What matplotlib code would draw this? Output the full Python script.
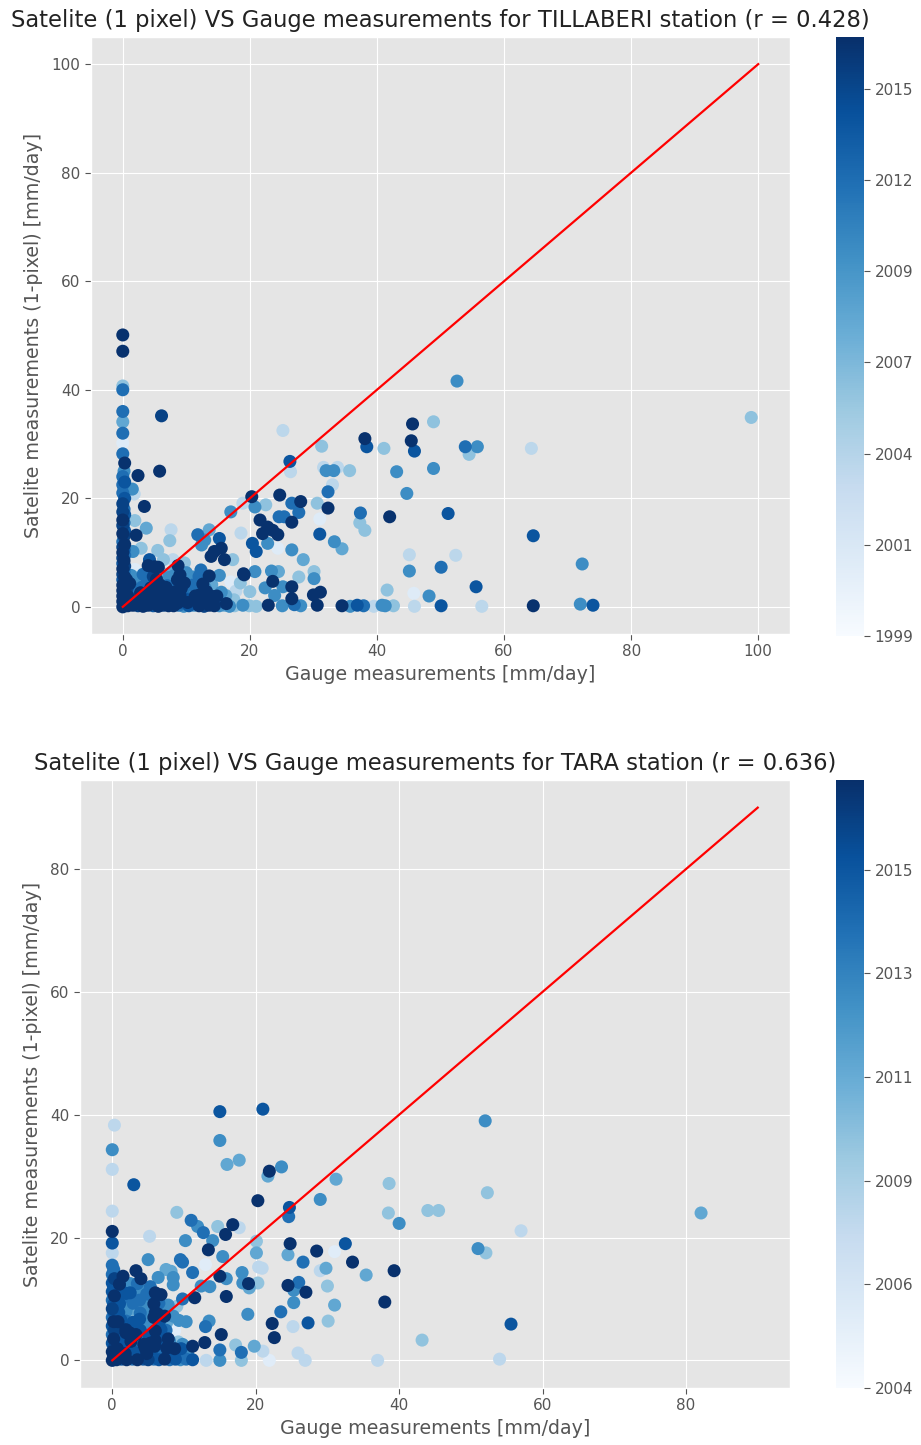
import matplotlib
matplotlib.use("Agg")
import matplotlib.pyplot as plt
import numpy as np
from matplotlib.colors import Normalize
import matplotlib.cm as cm

plt.style.use("ggplot")

# ------------------------------------------------------------------ DATA
# ---- TILLABERI (top) ----
top_title = "Satelite (1 pixel) VS Gauge measurements for TILLABERI station (r = 0.428)"
# column of points at gauge = 0
top_col_x = [0.0, 0.2, 0.0, 0.3, 0.0, 0.2, 0.0, 0.4, 0.0, 0.2, 0.0, 0.3, 0.0, 0.2, 0.0, 0.3, 0.0, 0.2, 0.0, 0.3,
             0.0, 0.2, 0.0, 0.3, 0.0, 0.2, 0.0, 0.3, 0.0, 0.2, 0.0, 0.3, 0.0, 0.2, 0.0, 0.3, 0.0, 0.2, 0.0, 0.3,
             0.0, 0.2, 0.3, 0.0, 0.0, 0.0, 0.0, 0.0, 0.0, 0.0, 0.0, 0.0]
top_col_y = [0, 0.5, 1, 1.5, 2, 2.5, 3, 3.5, 4, 4.5, 5, 5.5, 6, 6.5, 7, 7.5, 8, 8.5, 9, 9.5,
             10, 10.5, 11, 11.5, 12, 13, 13.5, 14, 15, 15.5, 16, 17, 17.5, 18, 19, 20, 21, 22, 22.5, 23,
             24, 25, 26.5, 28.2, 30.2, 32.0, 34.1, 36.0, 40.0, 40.7, 47.1, 50.1]
top_col_year = [2016.5, 2015.5, 2016.5, 2014.2, 2016.5, 2015.5, 2016.5, 2010.5, 2016.5, 2015.5,
                2014.2, 2016.5, 2015.5, 2012.5, 2016.5, 2015.5, 2014.2, 2016.5, 2015.5, 2012.5,
                2016.5, 2014.2, 2015.5, 2016.5, 2012.5, 2015.5, 2016.5, 2014.2, 2015.5, 2012.5,
                2016.5, 2014.2, 2015.5, 2012.5, 2015.5, 2014.2, 2012.5, 2010.5, 2012.5, 2014.2,
                2012.5, 2010.5, 2016.5, 2012.5, 2001.5, 2012.5, 2008.5, 2012.5, 2012.5, 2006.5,
                2016.5, 2016.5]

# dense carpet near the origin
top_base_x = [0.8, 1.6, 2.4, 3.2, 4.0, 4.8, 5.6, 6.4, 7.2, 8.0, 8.8, 9.6, 10.4, 11.2, 12.0, 12.8, 13.6, 14.4, 15.2, 16.0, 16.8, 17.6,
              1.0, 2.0, 3.0, 4.0, 5.0, 6.0, 7.0, 8.0, 9.0, 10.0, 11.0, 12.0, 13.0, 15.0, 17.5,
              1.5, 2.8, 4.2, 5.0, 7.0, 8.3, 9.5, 10.8, 13.2, 15.5, 17.8, 20.0,
              2.0, 3.2, 5.8, 7.0, 8.3, 11.0, 12.6, 14.0,
              1.3, 4.8, 6.6, 8.0, 9.0]
top_base_y = [0.2, 0.3, 0.2, 0.1, 0.3, 0.2, 0.1, 0.3, 0.2, 0.2, 0.3, 0.1, 0.2, 0.3, 0.2, 0.1, 0.3, 0.2, 0.2, 0.3, 0.1, 0.2,
              1.3, 1.1, 1.4, 1.2, 1.3, 1.5, 1.2, 1.3, 1.1, 1.4, 1.2, 1.3, 1.5, 1.2, 1.3,
              2.8, 2.6, 3.0, 2.7, 2.9, 2.8, 2.6, 3.0, 2.8, 2.7, 2.9, 2.8,
              4.0, 4.2, 4.1, 3.9, 4.3, 4.0, 4.2, 4.1,
              5.8, 5.6, 6.0, 5.7, 5.9]
top_base_year = [2016.5, 2016.5, 2015.5, 2016.5, 2016.5, 2014.2, 2016.5, 2015.5, 2016.5, 2016.5, 2012.5,
                 2010.5, 2014.2, 2010.5, 2016.5, 2015.5, 2016.5, 2016.5, 2010.5, 2008.5, 2010.5, 2006.5,
                 2016.5, 2015.5, 2016.5, 2012.5, 2016.5, 2016.5, 2010.5, 2016.5, 2015.5, 2014.2, 2010.5,
                 2016.5, 2012.5, 2010.5, 2006.5,
                 2012.5, 2016.5, 2010.5, 2016.5, 2014.2, 2016.5, 2012.5, 2010.5, 2016.5, 2010.5, 2004.2, 2006.5,
                 2006.5, 2010.5, 2016.5, 2012.5, 2010.5, 2012.5, 2016.5, 2008.5,
                 2010.5, 2015.5, 2006.5, 2010.5, 2016.5]

# extra fill of the crowded corner
top_fill_x = [0.6, 1.4, 2.2, 3.0, 3.8, 4.6, 5.4, 6.2, 7.0, 7.8, 8.6, 9.4, 10.2, 11.0, 11.8, 12.6, 13.4, 14.2, 15.0, 15.8,
              0.8, 1.8, 3.4, 4.6, 5.8, 6.6, 7.8, 9.0, 10.2, 11.4, 12.4, 13.6, 14.8, 16.2,
              0.7, 1.9, 3.0, 4.4, 5.6, 6.8, 8.0, 9.2, 10.4, 11.6, 13.0,
              0.6, 1.6, 3.2, 5.3, 7.2, 8.6, 10.8, 12.0]
top_fill_y = [0.8, 0.7, 0.9, 0.8, 0.7, 0.9, 0.8, 0.7, 0.9, 0.8, 0.7, 0.9, 0.8, 0.7, 0.9, 0.8, 0.7, 0.9, 0.8, 0.7,
              2.0, 2.1, 1.9, 2.0, 2.2, 1.9, 2.0, 2.1, 1.9, 2.0, 2.2, 1.9, 2.0, 2.1,
              3.5, 3.4, 3.6, 3.5, 3.3, 3.6, 3.5, 3.4, 3.6, 3.5, 3.4,
              5.0, 5.6, 6.0, 5.1, 5.4, 5.0, 5.2, 5.6]
top_fill_year = [2016.5, 2015.5, 2016.5, 2014.2, 2016.5, 2016.5, 2015.5, 2016.5, 2012.5, 2016.5,
                 2016.5, 2014.2, 2016.5, 2012.5, 2016.5, 2014.2, 2016.5, 2015.5, 2012.5, 2010.5,
                 2016.5, 2012.5, 2016.5, 2010.5, 2016.5, 2015.5, 2012.5, 2016.5, 2010.5, 2016.5,
                 2014.2, 2012.5, 2016.5, 2008.5,
                 2015.5, 2008.5, 2012.5, 2016.5, 2010.5, 2016.5, 2012.5, 2016.5, 2008.5, 2012.5, 2010.5,
                 2016.5, 2006.5, 2012.5, 2016.5, 2010.5, 2016.5, 2008.5, 2012.5]

# scattered points, gauge < 20
top_a_x = [6.1, 5.8, 2.4, 1.5, 1.8, 3.4, 1.9, 3.7, 2.1, 7.6, 7.4, 2.9, 5.5, 1.6, 4.2, 4.0, 5.0, 5.6, 6.4, 7.9,
           8.7, 9.7, 9.7, 7.6, 1.9, 2.6, 3.9, 1.1, 6.1, 5.3, 7.6, 11.8, 12.4, 13.6, 12.9, 15.2, 14.4, 15.5, 13.9, 16.0,
           17.3, 12.3, 13.6, 15.2, 18.6, 17.0, 18.9, 19.1, 17.0, 18.5, 10.0, 11.0, 12.1, 14.4, 16.3]
top_a_y = [35.2, 25.0, 24.2, 21.7, 20.8, 18.5, 15.9, 14.5, 13.2, 14.2, 12.2, 10.8, 10.4, 10.2, 8.7, 7.6, 7.4, 7.3, 8.7, 8.7,
           7.6, 8.1, 4.4, 6.3, 6.9, 5.0, 5.0, 4.3, 2.8, 2.3, 2.5, 13.3, 11.4, 14.2, 12.3, 12.6, 10.2, 10.8, 9.3, 8.7,
           8.7, 6.8, 5.7, 5.8, 13.6, 17.5, 19.1, 5.9, 4.6, 4.4, 6.3, 5.5, 2.2, 1.9, 0.6]
top_a_year = [2015.5, 2016.5, 2016.5, 2010.5, 2004.2, 2016.5, 2006.5, 2008.5, 2016.5, 2004.2,
              2006.5, 2006.5, 2006.5, 2010.5, 2014.2, 2016.5, 2016.5, 2016.5, 2006.5, 2004.2,
              2016.5, 2006.5, 2016.5, 2008.5, 2001.5, 2010.5, 2012.5, 2016.5, 2016.5, 2016.5,
              2016.5, 2012.5, 2010.5, 2008.5, 2010.5, 2014.2, 2016.5, 2016.5, 2016.5, 2016.5,
              2006.5, 2012.5, 2016.5, 2010.5, 2004.2, 2010.5, 2004.2, 2016.5, 2001.5, 2006.5,
              2010.5, 2010.5, 2016.5, 2016.5, 2016.5]

# scattered points, gauge 20-36
top_b_x = [20.3, 20.8, 22.5, 21.6, 24.7, 26.6, 28.0, 26.3, 26.4, 25.2, 24.6, 25.4, 26.6, 27.7, 22.8, 23.6, 24.4, 22.0, 20.4, 21.0,
           22.8, 24.4, 26.6, 28.4, 19.0, 20.8, 23.4, 24.5, 23.6, 25.2, 26.6, 27.7, 30.1, 30.1, 31.1, 30.0, 23.9, 22.4, 26.6, 30.6,
           31.3, 31.6, 33.8, 32.0, 33.2, 33.0, 32.3, 32.3, 31.0, 31.0, 33.3, 34.5, 35.7]
top_b_y = [20.3, 18.4, 18.8, 16.0, 20.6, 19.1, 19.4, 26.8, 24.9, 32.5, 16.6, 16.6, 15.6, 17.4, 14.7, 14.1, 13.3, 13.5, 11.7, 10.2,
           11.7, 10.8, 10.5, 8.7, 6.1, 6.5, 6.6, 6.5, 4.7, 3.7, 3.7, 5.5, 6.5, 5.2, 2.7, 2.2, 2.1, 3.5, 1.5, 19.1,
           29.6, 25.7, 25.7, 25.1, 25.1, 22.5, 21.2, 18.2, 16.2, 13.4, 12.0, 10.7, 25.1]
top_b_year = [2016.5, 2010.5, 2006.5, 2016.5, 2016.5, 2012.5, 2016.5, 2014.2, 2004.2, 2004.2,
              2012.5, 2012.5, 2016.5, 2012.5, 2016.5, 2016.5, 2016.5, 2016.5, 2014.2, 2014.2,
              2010.5, 2001.5, 2010.5, 2008.5, 2016.5, 2010.5, 2010.5, 2008.5, 2016.5, 2010.5,
              2016.5, 2006.5, 2006.5, 2010.5, 2016.5, 2016.5, 2010.5, 2010.5, 2016.5, 2006.5,
              2006.5, 2004.2, 2004.2, 2010.5, 2010.5, 2004.2, 2012.5, 2016.5, 2001.5, 2014.2,
              2010.5, 2008.5, 2006.5]

# scattered points, gauge > 36
top_c_x = [37.4, 37.3, 38.1, 38.1, 38.4, 41.1, 42.0, 43.1, 44.7, 45.6, 45.4, 45.9, 48.9, 48.9, 51.2, 45.1, 45.1, 50.1, 48.2, 45.8,
           41.6, 52.6, 53.9, 55.8, 54.5, 64.3, 64.6, 72.3, 52.4, 55.6, 98.9, 64.6, 72.0, 74.0, 56.5, 50.1]
top_c_y = [17.3, 15.5, 14.1, 31.0, 29.5, 29.2, 16.6, 24.9, 20.9, 33.7, 30.6, 28.7, 34.1, 25.5, 17.2, 9.6, 6.6, 7.3, 2.0, 2.5,
           3.1, 41.6, 29.5, 29.5, 28.1, 29.2, 13.1, 7.9, 9.5, 3.7, 34.9, 0.2, 0.5, 0.3, 0.1, 0.2]
top_c_year = [2012.5, 2006.5, 2006.5, 2016.5, 2014.2, 2006.5, 2016.5, 2010.5, 2010.5, 2016.5,
              2016.5, 2014.2, 2006.5, 2010.5, 2014.2, 2004.2, 2010.5, 2012.5, 2010.5, 2001.5,
              2006.5, 2010.5, 2012.5, 2010.5, 2006.5, 2004.2, 2014.2, 2010.5, 2004.2, 2014.2,
              2006.5, 2016.5, 2010.5, 2014.2, 2004.2, 2014.2]

# points on the satellite = 0 row, gauge > 18
top_d_x = [18.9, 19.9, 21.0, 22.9, 25.1, 27.0, 28.0, 30.6, 34.5, 35.8, 36.9, 37.9, 39.5, 40.8, 41.3, 42.6, 45.9]
top_d_y = [0.3, 0.2, 0.1, 0.3, 0.2, 0.4, 0.2, 0.3, 0.2, 0.1, 0.3, 0.2, 0.1, 0.3, 0.2, 0.2, 0.1]
top_d_year = [2010.5, 2006.5, 2006.5, 2016.5, 2010.5, 2012.5, 2010.5, 2016.5, 2016.5, 2010.5,
              2014.2, 2012.5, 2004.2, 2010.5, 2010.5, 2006.5, 2004.2]

top_line = [0, 100]
top_cbar_range = [1999.3, 2016.7]
top_cbar_ticks = [1999.3, 2001.95, 2004.6, 2007.25, 2009.9, 2012.55, 2015.2]
top_cbar_labels = ["1999", "2001", "2004", "2007", "2009", "2012", "2015"]
top_xticks = [0, 20, 40, 60, 80, 100]
top_yticks = [0, 20, 40, 60, 80, 100]

# ---- TARA (bottom) ----
bot_title = "Satelite (1 pixel) VS Gauge measurements for TARA station (r = 0.636)"
bot_col_x = [0.0, 0.2, 0.0, 0.3, 0.0, 0.2, 0.0, 0.3, 0.0, 0.2, 0.0, 0.3, 0.0, 0.2, 0.0, 0.3, 0.0, 0.2, 0.0, 0.3,
             0.0, 0.2, 0.0, 0.0, 0.0, 0.0, 0.0, 0.0, 0.0, 0.3]
bot_col_y = [0, 0.7, 1.4, 2.1, 2.8, 3.5, 4.2, 4.9, 5.6, 6.3, 7.0, 7.7, 8.4, 9.1, 9.8, 10.5, 11.2, 11.9, 12.6, 13.3,
             14.0, 14.8, 15.5, 17.5, 19.1, 21.0, 24.3, 31.1, 34.3, 38.3]
bot_col_year = [2017.6, 2015.8, 2017.6, 2016.8, 2015.8, 2017.6, 2014.5, 2016.8, 2015.8, 2017.6,
                2014.5, 2015.8, 2016.8, 2015.8, 2014.5, 2017.6, 2015.8, 2014.5, 2015.8, 2016.8,
                2014.5, 2014.5, 2014.5, 2008.2, 2015.8, 2017.6, 2008.2, 2008.2, 2013.0, 2008.2]

bot_base_x = [0.6, 1.3, 2.0, 2.8, 3.5, 4.3, 5.0, 5.8, 6.5, 7.3, 8.0, 8.8, 9.5, 10.3, 11.2,
              0.8, 1.8, 2.8, 3.8, 4.8, 5.8, 6.8, 7.8, 9.0, 10.5,
              1.0, 2.2, 3.4, 4.4, 6.0, 7.0, 9.8]
bot_base_y = [0.1, 0.2, 0.1, 0.2, 0.1, 0.2, 0.1, 0.2, 0.1, 0.2, 0.1, 0.2, 0.1, 0.2, 0.1,
              1.2, 1.1, 1.3, 1.2, 1.1, 1.3, 1.2, 1.1, 1.3, 1.2,
              2.6, 2.5, 2.7, 2.6, 2.5, 2.7, 2.6]
bot_base_year = [2017.6, 2015.8, 2017.6, 2014.5, 2017.6, 2015.8, 2016.8, 2014.5, 2015.8, 2017.6,
                 2014.5, 2015.8, 2013.0, 2014.5, 2015.8,
                 2015.8, 2017.6, 2014.5, 2015.8, 2017.6, 2014.5, 2013.0, 2015.8, 2014.5, 2013.0,
                 2014.5, 2015.8, 2013.0, 2017.6, 2014.5, 2015.8, 2013.0]

bot_mid_x = [1.2, 3.8, 4.3, 6.5, 3.8, 1.3, 2.5, 4.3, 7.8, 9.0, 9.8, 1.0, 3.8, 5.2, 6.4, 2.4, 3.6, 3.3, 2.4, 2.4,
             3.3, 5.2, 6.4, 5.9, 0.9, 6.8]
bot_mid_y = [6.6, 3.8, 6.2, 9.3, 9.8, 10.0, 11.0, 11.3, 9.0, 8.8, 10.0, 12.0, 6.7, 8.6, 7.5, 9.4, 9.3, 8.0, 4.5, 3.4,
             4.2, 4.0, 4.5, 2.3, 5.5, 5.0]
bot_mid_year = [2015.8, 2013.0, 2013.0, 2014.5, 2014.5, 2014.5, 2015.8, 2013.0, 2013.0, 2009.9,
                2014.5, 2015.8, 2015.8, 2013.0, 2017.6, 2013.0, 2011.5, 2009.9, 2017.6, 2015.8,
                2017.6, 2015.8, 2015.8, 2017.6, 2014.5, 2015.8]

# extra fill of the crowded triangle near the origin
bot_fill_x = [0.7, 1.7, 2.6, 3.6, 4.6, 5.6, 6.6, 7.6, 8.6, 9.6,
              0.8, 1.6, 2.6, 3.4, 4.2, 5.0, 6.0, 7.0, 8.0,
              0.9, 1.9, 2.9, 3.9, 5.0, 6.0, 7.5,
              0.8, 1.9, 2.9, 5.3, 6.6, 7.6,
              0.9, 1.9, 3.9, 6.0, 7.0,
              1.0, 2.9, 4.8, 5.8,
              0.9, 1.9, 3.4, 4.8,
              1.0, 3.5]
bot_fill_y = [1.9, 2.0, 1.8, 1.9, 2.0, 1.8, 1.9, 2.0, 1.8, 1.9,
              3.2, 3.3, 3.1, 3.2, 3.3, 3.1, 3.2, 3.3, 3.1,
              4.9, 5.0, 4.8, 4.9, 5.0, 4.8, 4.9,
              6.3, 6.4, 6.2, 6.3, 6.4, 6.2,
              7.8, 7.9, 7.7, 7.8, 7.9,
              9.2, 9.3, 9.1, 9.2,
              10.8, 10.9, 10.7, 10.8,
              12.4, 12.5]
bot_fill_year = [2017.6, 2014.5, 2015.8, 2013.0, 2017.6, 2015.8, 2014.5, 2017.6, 2013.0, 2015.8,
                 2015.8, 2013.0, 2017.6, 2014.5, 2011.5, 2015.8, 2017.6, 2014.5, 2013.0,
                 2014.5, 2017.6, 2011.5, 2015.8, 2013.0, 2017.6, 2014.5,
                 2017.6, 2014.5, 2015.8, 2013.0, 2015.8, 2011.5,
                 2015.8, 2013.0, 2014.5, 2017.6, 2013.0,
                 2015.8, 2014.5, 2013.0, 2017.6,
                 2014.5, 2015.8, 2013.0, 2014.5,
                 2017.6, 2014.5]

bot_a_x = [15.0, 15.0, 16.0, 17.7, 3.0, 9.0, 11.0, 11.9, 12.7, 14.7, 16.8, 17.7, 15.8, 14.0, 10.2, 13.4, 5.2, 5.0, 9.5, 9.8,
           13.0, 15.4, 18.1, 1.5, 3.3, 4.0, 2.5, 5.3, 6.0, 6.4, 7.5, 8.2, 8.5, 8.5, 6.8, 11.2, 12.4, 11.5, 13.6, 15.0,
           15.9, 15.9, 18.2, 18.9, 15.2, 13.0, 13.5, 12.9, 11.2, 15.0, 18.0, 17.2, 10.3, 9.3, 8.7, 7.8, 8.7, 9.2, 7.3, 8.5,
           4.8, 5.8, 5.3, 1.9, 1.9, 2.8, 3.3, 5.8, 4.8, 2.0, 3.0, 2.8, 13.1, 15.0, 18.0]
bot_a_y = [40.5, 35.8, 31.9, 32.6, 28.6, 24.1, 22.8, 21.8, 20.8, 21.8, 22.1, 21.6, 20.5, 19.5, 19.5, 18.0, 20.2, 16.4, 16.4, 16.0,
           15.6, 16.9, 14.3, 13.7, 14.6, 13.3, 12.5, 12.0, 11.0, 13.5, 14.8, 14.5, 13.5, 12.3, 10.7, 14.3, 12.1, 10.2, 12.0, 13.7,
           13.3, 10.4, 12.6, 7.5, 4.2, 5.5, 6.4, 2.9, 2.3, 1.7, 1.3, 2.5, 6.3, 6.5, 4.8, 3.5, 1.9, 3.0, 7.2, 7.2,
           4.0, 4.5, 2.8, 4.5, 3.3, 4.0, 6.0, 7.0, 8.0, 8.5, 8.4, 7.0, 0.0, 0.0, 0.0]
bot_a_year = [2015.8, 2013.0, 2011.5, 2011.5, 2015.8, 2009.9, 2014.5, 2013.0, 2014.5, 2009.9,
              2017.6, 2008.2, 2017.6, 2013.0, 2013.0, 2017.6, 2008.2, 2013.0, 2014.5, 2014.5,
              2006.0, 2013.0, 2013.0, 2017.6, 2017.6, 2017.6, 2013.0, 2014.5, 2017.6, 2013.0,
              2011.5, 2011.5, 2013.0, 2013.0, 2017.6, 2014.5, 2013.0, 2017.6, 2013.0, 2017.6,
              2013.0, 2017.6, 2013.0, 2013.0, 2017.6, 2014.5, 2013.0, 2017.6, 2017.6, 2014.5,
              2014.5, 2009.9, 2013.0, 2013.0, 2006.0, 2017.6, 2017.6, 2009.9, 2017.6, 2013.0,
              2014.5, 2014.5, 2017.6, 2017.6, 2014.5, 2017.6, 2014.5, 2017.6, 2013.0, 2013.0,
              2011.5, 2009.9, 2008.2, 2013.0, 2009.9]

bot_b_x = [21.0, 21.9, 21.7, 23.6, 31.2, 38.6, 20.3, 24.7, 24.6, 29.0, 38.5, 44.0, 45.5, 40.0, 20.1, 20.1, 24.8, 24.5, 28.5, 31.0,
           32.5, 26.6, 33.5, 29.8, 29.0, 35.4, 39.3, 20.4, 20.9, 19.0, 19.1, 20.3, 24.5, 26.0, 25.3, 27.0, 30.0, 25.3, 31.0, 38.0,
           23.5, 22.3, 27.3, 30.1, 25.2, 22.6, 19.8, 21.0, 21.9, 25.9, 26.9, 37.0, 43.2, 52.0, 52.3, 57.0, 51.0, 52.1, 55.6,
           54.0, 82.1]
bot_b_y = [40.9, 30.8, 30.0, 31.5, 29.5, 28.8, 26.0, 24.9, 23.4, 26.2, 24.0, 24.4, 24.4, 22.3, 19.4, 17.5, 19.0, 17.2, 17.8, 17.7,
           19.0, 16.0, 16.0, 15.0, 14.6, 13.9, 14.6, 15.2, 15.0, 12.5, 11.8, 12.6, 12.2, 12.7, 11.4, 11.1, 12.1, 9.4, 9.0, 9.5,
           7.9, 6.0, 6.1, 6.4, 5.5, 3.7, 2.3, 1.5, 0.0, 1.2, 0.0, 0.0, 3.3, 39.0, 27.3, 21.1, 18.2, 17.5, 5.9,
           0.2, 24.0]
bot_b_year = [2015.8, 2017.6, 2011.5, 2013.0, 2011.5, 2009.9, 2017.6, 2015.8, 2014.5, 2013.0,
              2009.9, 2009.9, 2009.9, 2013.0, 2009.9, 2011.5, 2017.6, 2011.5, 2017.6, 2006.0,
              2015.8, 2014.5, 2017.6, 2011.5, 2008.2, 2011.5, 2017.6, 2008.2, 2008.2, 2017.6,
              2011.5, 2009.9, 2017.6, 2014.5, 2013.0, 2017.6, 2009.9, 2013.0, 2011.5, 2017.6,
              2014.5, 2017.6, 2015.8, 2009.9, 2008.2, 2017.6, 2011.5, 2008.2, 2006.0, 2008.2,
              2008.2, 2008.2, 2009.9, 2013.0, 2009.9, 2008.2, 2013.0, 2009.9, 2015.8,
              2008.2, 2011.5]

bot_line = [0, 90]
bot_cbar_range = [2004.5, 2017.7]
bot_cbar_ticks = [2004.5, 2006.75, 2009.0, 2011.25, 2013.5, 2015.75]
bot_cbar_labels = ["2004", "2006", "2009", "2011", "2013", "2015"]
bot_xticks = [0, 20, 40, 60, 80]
bot_yticks = [0, 20, 40, 60, 80]

xlabel = "Gauge measurements [mm/day]"
ylabel = "Satelite measurements (1-pixel) [mm/day]"

# ------------------------------------------------------------------ PLOT
W, H = 921, 1445
fig = plt.figure(figsize=(W / 100, H / 100), dpi=100)
fig.patch.set_facecolor("white")


def frac(x0, y0, x1, y1):
    return [x0 / W, 1 - y1 / H, (x1 - x0) / W, (y1 - y0) / H]


def panel(ax_rect, cax_rect, groups, line, crange, cticks, clabels, xticks, yticks, title):
    ax = fig.add_axes(frac(*ax_rect))
    cax = fig.add_axes(frac(*cax_rect))
    xs = np.concatenate([np.asarray(g[0], float) for g in groups])
    ys = np.concatenate([np.asarray(g[1], float) for g in groups])
    cs = np.concatenate([np.asarray(g[2], float) for g in groups])
    order = np.argsort(cs, kind="stable")
    norm = Normalize(vmin=crange[0], vmax=crange[1])
    ax.scatter(xs[order], ys[order], c=cs[order], cmap="Blues", norm=norm,
               s=88, linewidths=0, zorder=2)
    ax.plot(line, line, color="red", lw=1.6, zorder=3)
    ax.margins(0.05)
    ax.set_xticks(xticks)
    ax.set_yticks(yticks)
    ax.tick_params(labelsize=11, colors="#555555", length=4)
    ax.set_xlabel(xlabel, fontsize=13.7, color="#555555")
    ax.set_ylabel(ylabel, fontsize=13.7, color="#555555", labelpad=6)
    ax.set_title(title, fontsize=16.3, color="#222222", pad=7)
    sm = cm.ScalarMappable(norm=norm, cmap="Blues")
    cb = fig.colorbar(sm, cax=cax)
    cb.set_ticks(cticks)
    cb.set_ticklabels(clabels)
    cb.outline.set_visible(False)
    cax.tick_params(labelsize=11, colors="#555555", length=4)
    return ax


panel((91, 37, 790, 634), (836, 37, 864, 636),
      [(top_col_x, top_col_y, top_col_year), (top_base_x, top_base_y, top_base_year),
       (top_fill_x, top_fill_y, top_fill_year),
       (top_a_x, top_a_y, top_a_year), (top_b_x, top_b_y, top_b_year),
       (top_c_x, top_c_y, top_c_year), (top_d_x, top_d_y, top_d_year)],
      top_line, top_cbar_range, top_cbar_ticks, top_cbar_labels, top_xticks, top_yticks, top_title)

panel((80, 780, 790, 1388), (836, 780, 864, 1388),
      [(bot_col_x, bot_col_y, bot_col_year), (bot_base_x, bot_base_y, bot_base_year),
       (bot_mid_x, bot_mid_y, bot_mid_year), (bot_fill_x, bot_fill_y, bot_fill_year),
       (bot_a_x, bot_a_y, bot_a_year), (bot_b_x, bot_b_y, bot_b_year)],
      bot_line, bot_cbar_range, bot_cbar_ticks, bot_cbar_labels, bot_xticks, bot_yticks, bot_title)

fig.savefig("out.png", dpi=100)
